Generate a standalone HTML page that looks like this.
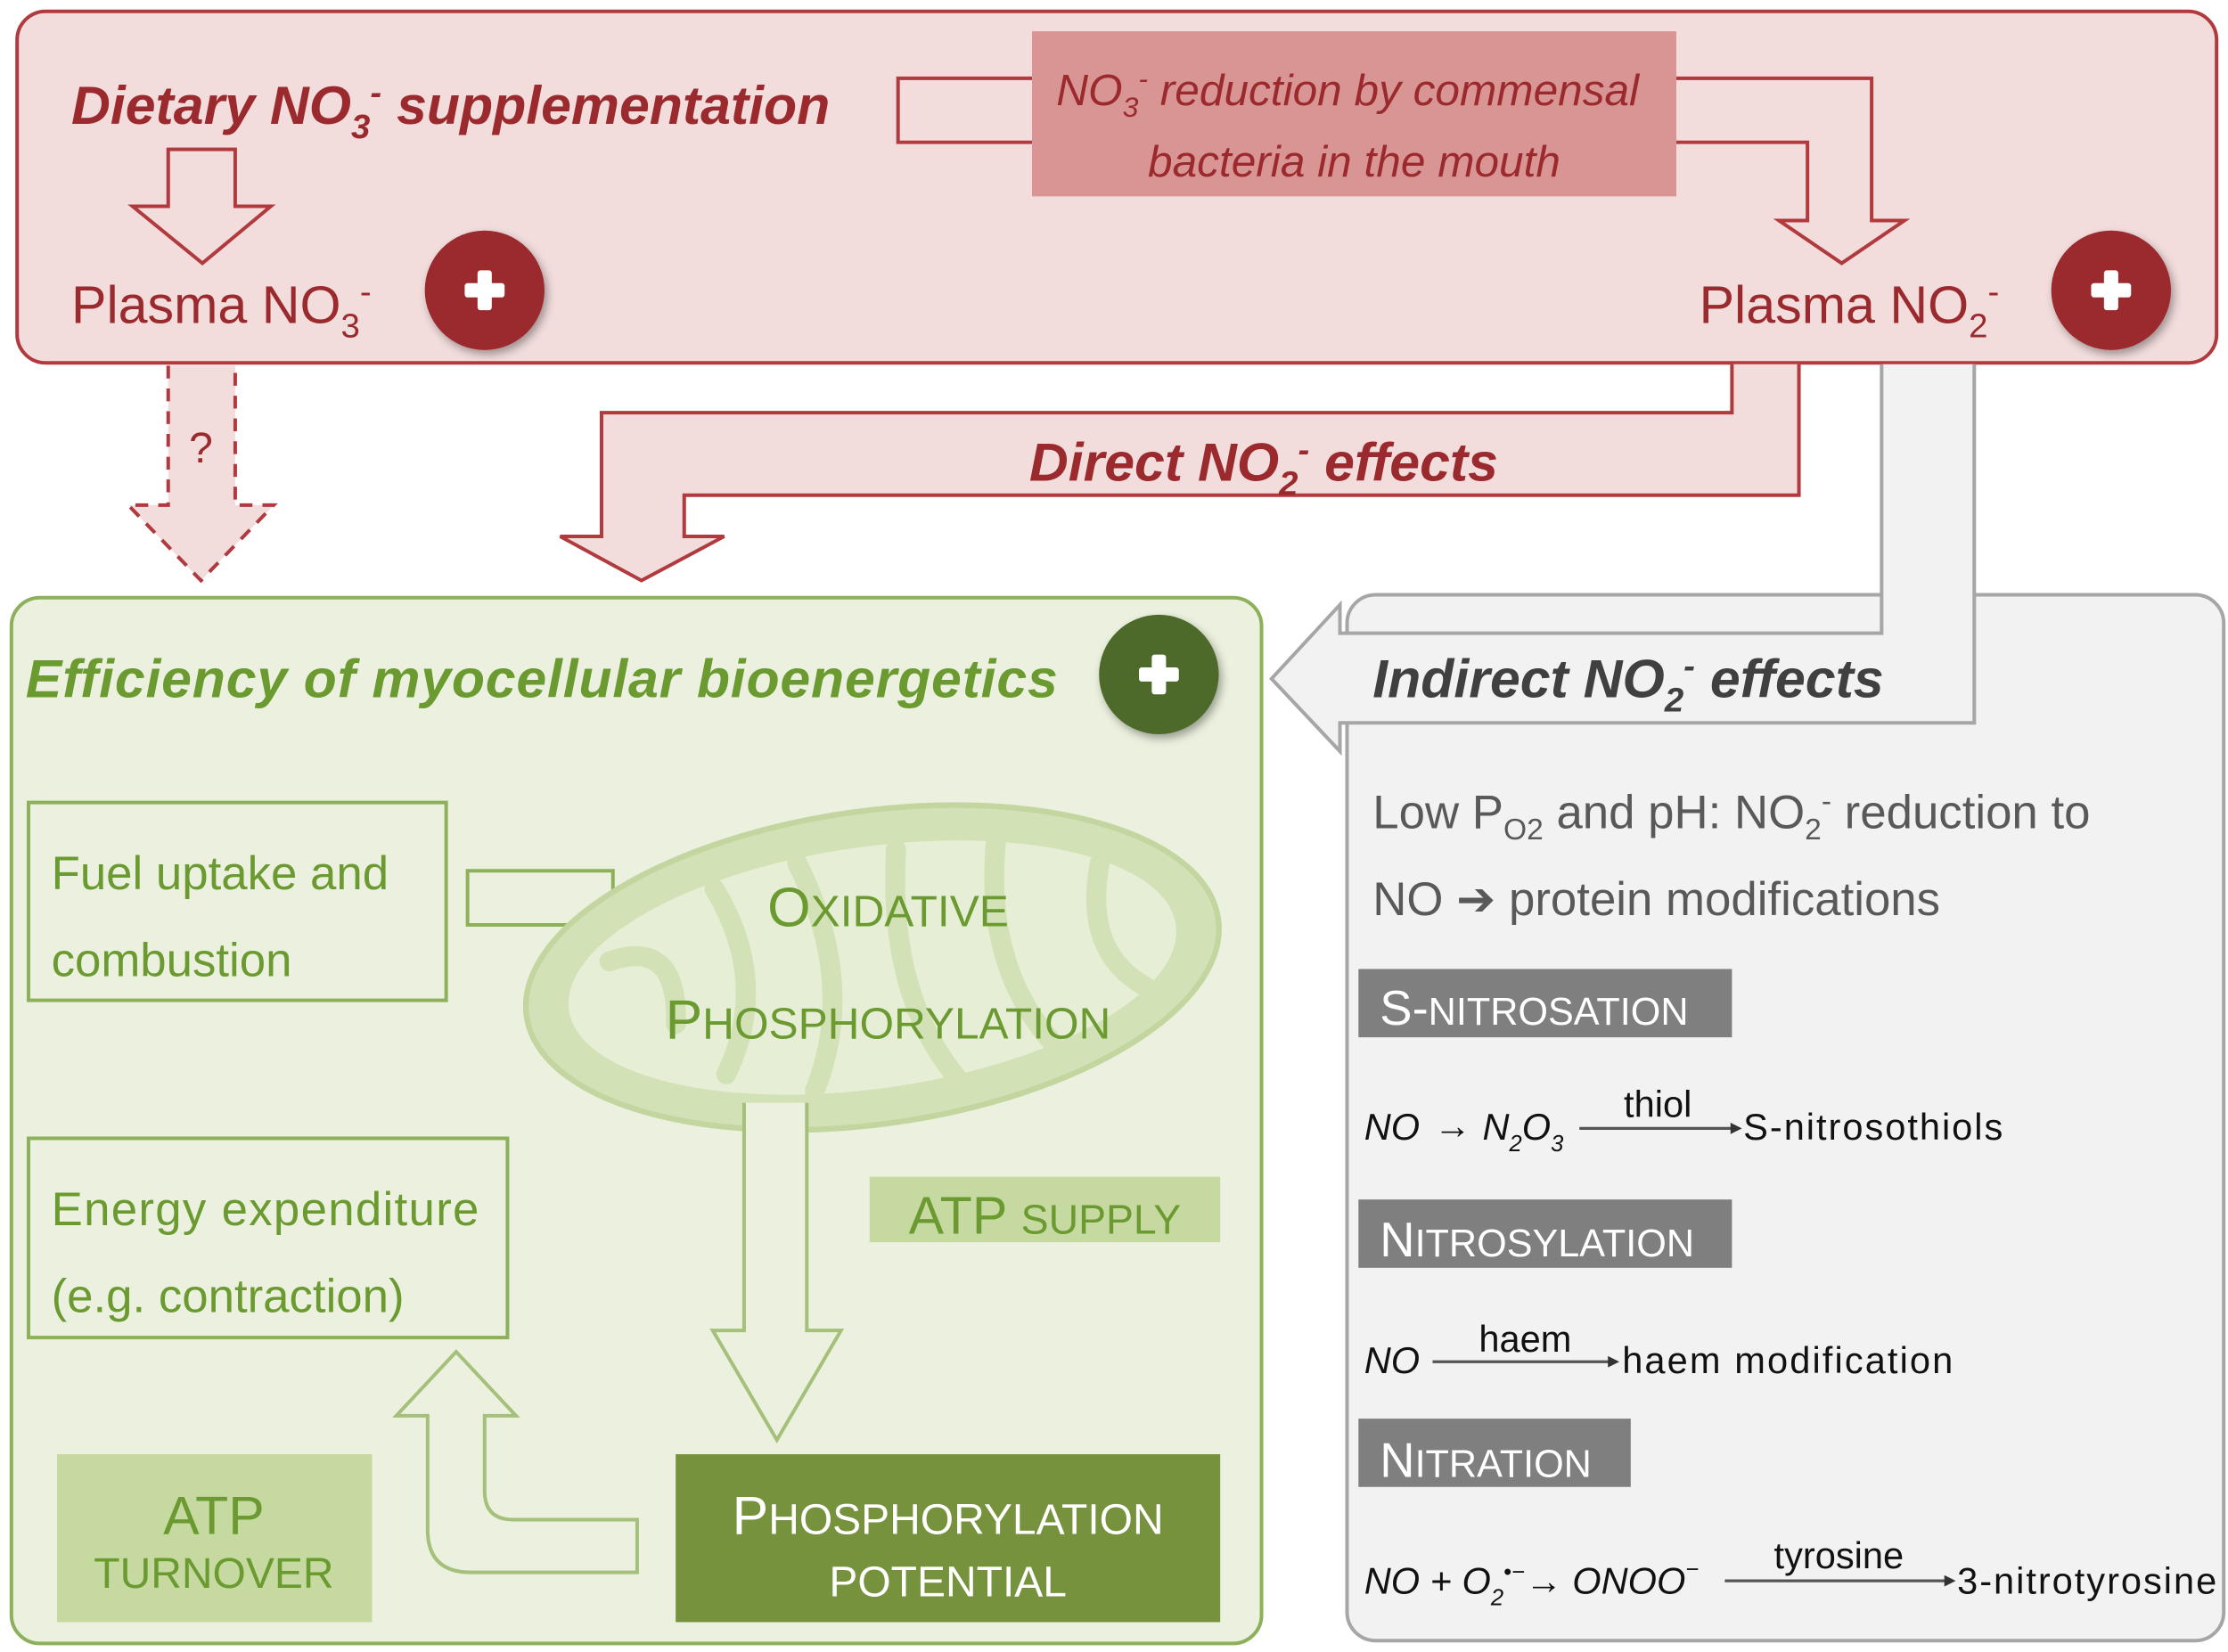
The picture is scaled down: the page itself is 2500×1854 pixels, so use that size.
<!DOCTYPE html>
<html><head><meta charset="utf-8"><style>
html,body{margin:0;padding:0;background:#fff;}
svg{display:block}
text{font-family:"Liberation Sans",sans-serif;}
</style></head><body>
<svg width="2500" height="1854" viewBox="0 0 1563 1161" preserveAspectRatio="none" xmlns="http://www.w3.org/2000/svg">
<defs>
<filter id="sh" x="-30%" y="-30%" width="160%" height="160%"><feDropShadow dx="2" dy="3" stdDeviation="3" flood-opacity="0.35"/></filter>
</defs>
<rect width="1563" height="1161" fill="#fff"/>
<!-- top panel -->
<rect x="12" y="8" width="1543" height="247" rx="20" fill="#f2dcdc" stroke="#b03a3e" stroke-width="2.5"/>
<path d="M724,55 L630,55 L630,100 L724,100" fill="#f2dcdc" stroke="#b03a3e" stroke-width="2.5"/>
<path d="M1176,55 L1313,55 L1313,155 L1336,155 L1292,185 L1248,155 L1268,155 L1268,100 L1176,100" fill="#f2dcdc" stroke="#b03a3e" stroke-width="2.5"/>
<rect x="724" y="22" width="452" height="116" fill="#d99594"/>
<text x="741" y="74" font-size="31" font-style="italic" fill="#9b2a2e">NO<tspan font-size="20" dy="8">3</tspan><tspan font-size="20" dy="-20">-</tspan><tspan dy="12"> reduction by commensal</tspan></text>
<text x="950" y="124" text-anchor="middle" font-size="31" font-style="italic" fill="#9b2a2e">bacteria in the mouth</text>
<text x="50" y="87" font-size="38" font-weight="bold" font-style="italic" fill="#9b2a2e">Dietary NO<tspan font-size="24" dy="10">3</tspan><tspan font-size="24" dy="-24">-</tspan><tspan dy="14"> supplementation</tspan></text>
<path d="M118,105 L165,105 L165,145 L190,145 L142,185 L93,145 L118,145 Z" fill="#f2dcdc" stroke="#b03a3e" stroke-width="2.5"/>
<text x="50" y="227" font-size="37" fill="#9b2a2e">Plasma NO<tspan font-size="24" dy="10">3</tspan><tspan font-size="24" dy="-24">-</tspan></text>
<text x="1192" y="227" font-size="37" fill="#9b2a2e">Plasma NO<tspan font-size="24" dy="10">2</tspan><tspan font-size="24" dy="-24">-</tspan></text>
<!-- dashed arrow -->
<path d="M118,257 L118,355 L90,355 L141,408 L192,355 L165,355 L165,257" fill="#f2dcdc" stroke="#b03a3e" stroke-width="2.5" stroke-dasharray="9,7"/>
<text x="141" y="325" text-anchor="middle" font-size="30" fill="#9b2a2e">?</text>
<!-- direct arrow -->
<path d="M1215,256 L1215,290 L422,290 L422,377 L393,377 L450,408 L508,377 L480,377 L480,348 L1262,348 L1262,256" fill="#f2dcdc" stroke="#b03a3e" stroke-width="2.5"/>
<text x="722" y="338" font-size="38" font-weight="bold" font-style="italic" fill="#9b2a2e">Direct NO<tspan font-size="24" dy="10">2</tspan><tspan font-size="24" dy="-24">-</tspan><tspan dy="14"> effects</tspan></text>
<!-- grey panel -->
<rect x="945" y="418" width="615" height="735" rx="20" fill="#f2f2f2" stroke="#a6a6a6" stroke-width="2.5"/>
<path d="M1320,256 L1320,445 L940,445 L940,425 L892,477 L940,528 L940,508 L1385,508 L1385,256" fill="#f2f2f2" stroke="#a6a6a6" stroke-width="2.5"/>
<text x="963" y="490" font-size="38" font-weight="bold" font-style="italic" fill="#404040">Indirect NO<tspan font-size="24" dy="10">2</tspan><tspan font-size="24" dy="-24">-</tspan><tspan dy="14"> effects</tspan></text>
<text x="963" y="582" font-size="33" fill="#595959">Low P<tspan font-size="21" dy="8">O2</tspan><tspan dy="-8"> and pH: NO</tspan><tspan font-size="21" dy="8">2</tspan><tspan font-size="21" dy="-20">-</tspan><tspan dy="12"> reduction to</tspan></text>
<text x="963" y="643" font-size="33" fill="#595959">NO ➔ protein modifications</text>
<rect x="953" y="681" width="262" height="48" fill="#7f7f7f"/>
<text x="968" y="720" font-size="34" fill="#fff">S-<tspan font-size="27">NITROSATION</tspan></text>
<rect x="953" y="843" width="262" height="48" fill="#7f7f7f"/>
<text x="968" y="883" font-size="34" fill="#fff">N<tspan font-size="27">ITROSYLATION</tspan></text>
<rect x="953" y="997" width="191" height="48" fill="#7f7f7f"/>
<text x="968" y="1038" font-size="34" fill="#fff">N<tspan font-size="27">ITRATION</tspan></text>
<g font-size="26" fill="#111">
<text x="957" y="801" font-style="italic">NO</text>
<text x="1006" y="800">→</text>
<text x="1040" y="801" font-style="italic">N<tspan font-size="16" dy="8">2</tspan><tspan dy="-8">O</tspan><tspan font-size="16" dy="8">3</tspan></text>
<line x1="1108" y1="793" x2="1218" y2="793" stroke="#555" stroke-width="2"/><path d="M1214,789 L1222,793 L1214,797Z" fill="#333"/>
<text x="1163" y="785" text-anchor="middle">thiol</text>
<text x="1223" y="801" textLength="182">S-nitrosothiols</text>
<text x="957" y="965" font-style="italic">NO</text>
<line x1="1005" y1="957" x2="1132" y2="957" stroke="#555" stroke-width="2"/><path d="M1128,953 L1136,957 L1128,961Z" fill="#333"/>
<text x="1070" y="950" text-anchor="middle">haem</text>
<text x="1138" y="965" textLength="232">haem modification</text>
<text x="957" y="1120" font-style="italic">NO + O<tspan font-size="16" dy="8">2</tspan><tspan font-size="16" dy="-18">•−</tspan></text>
<text x="1070" y="1120">→</text>
<text x="1103" y="1120" font-style="italic">ONOO<tspan font-size="16" dy="-12">−</tspan></text>
<line x1="1210" y1="1111" x2="1368" y2="1111" stroke="#555" stroke-width="2"/><path d="M1364,1107 L1372,1111 L1364,1115Z" fill="#333"/>
<text x="1290" y="1102" text-anchor="middle">tyrosine</text>
<text x="1373" y="1120" textLength="182">3-nitrotyrosine</text>
</g>
<!-- green panel -->
<rect x="8" y="420" width="877" height="735" rx="20" fill="#ebf1de" stroke="#8db05a" stroke-width="2.5"/>
<text x="18" y="490" font-size="38" font-weight="bold" font-style="italic" fill="#6a9a30" textLength="724">Efficiency of myocellular bioenergetics</text>
<path d="M328,612 L328,650 L430,650 L430,612 Z" fill="#ebf1de" stroke="#8db05a" stroke-width="2.5"/>
<rect x="20" y="564" width="293" height="139" fill="#ebf1de" stroke="#8db05a" stroke-width="2.5"/>
<text x="36" y="625" font-size="33" fill="#6a9a30">Fuel uptake and</text>
<text x="36" y="686" font-size="33" fill="#6a9a30">combustion</text>
<rect x="20" y="800" width="336" height="140" fill="#ebf1de" stroke="#8db05a" stroke-width="2.5"/>
<text x="36" y="861" font-size="33" fill="#6a9a30" textLength="300">Energy expenditure</text>
<text x="36" y="922" font-size="33" fill="#6a9a30">(e.g. contraction)</text>
<!-- mitochondrion -->
<g transform="rotate(-8 612 680)">
<ellipse cx="612" cy="680" rx="245" ry="110" fill="#d3e1b6" stroke="#c3d6a0" stroke-width="4"/>
<ellipse cx="612" cy="680" rx="215" ry="85" fill="#e6eed6"/>
<g stroke="#d3e1b6" stroke-width="14" fill="none" stroke-linecap="round">
<path d="M430,650 Q480,640 470,700"/><path d="M510,610 Q540,680 500,740"/><path d="M570,600 Q600,690 560,760"/>
<path d="M640,600 Q620,700 660,765"/><path d="M710,605 Q690,690 730,750"/><path d="M780,630 Q760,690 800,720"/>
</g></g>
<text x="623" y="651" text-anchor="middle" font-size="39" fill="#6a9a30">O<tspan font-size="31">XIDATIVE</tspan></text>
<text x="623" y="730" text-anchor="middle" font-size="39" fill="#6a9a30">P<tspan font-size="31">HOSPHORYLATION</tspan></text>
<path d="M522,775 L522,935 L500,935 L545,1012 L590,935 L566,935 L566,775" fill="#ebf1de" stroke="#a5c07a" stroke-width="2.5"/>
<rect x="610" y="827" width="246" height="46" fill="#c6d9a0"/>
<text x="733" y="867" text-anchor="middle" font-size="37" fill="#6a9a30">ATP <tspan font-size="29">SUPPLY</tspan></text>
<rect x="474" y="1022" width="382" height="118" fill="#76923c"/>
<text x="665" y="1078" text-anchor="middle" font-size="38" fill="#fff">P<tspan font-size="30">HOSPHORYLATION</tspan></text>
<text x="665" y="1122" text-anchor="middle" font-size="30" fill="#fff">POTENTIAL</text>
<rect x="40" y="1022" width="221" height="118" fill="#c6d9a0"/>
<text x="150" y="1078" text-anchor="middle" font-size="38" fill="#6a9a30">ATP</text>
<text x="150" y="1116" text-anchor="middle" font-size="30" fill="#6a9a30">TURNOVER</text>
<path d="M447,1068 L360,1068 Q340,1068 340,1048 L340,995 L362,995 L320,950 L278,995 L300,995 L300,1075 Q300,1105 330,1105 L447,1105 Z" fill="#ebf1de" stroke="#a5c07a" stroke-width="2.5"/>
<!-- circles -->
<g filter="url(#sh)"><circle cx="340" cy="204" r="42" fill="#9b2a2e"/><circle cx="1481" cy="204" r="42" fill="#9b2a2e"/><circle cx="813" cy="474" r="42" fill="#4e6b2a"/></g>
<g fill="#fff"><rect x="326" y="199" width="28" height="10" rx="2"/><rect x="335" y="190" width="10" height="28" rx="2"/>
<rect x="1467" y="199" width="28" height="10" rx="2"/><rect x="1476" y="190" width="10" height="28" rx="2"/>
<rect x="799" y="469" width="28" height="10" rx="2"/><rect x="808" y="460" width="10" height="28" rx="2"/></g>
</svg>
</body></html>
